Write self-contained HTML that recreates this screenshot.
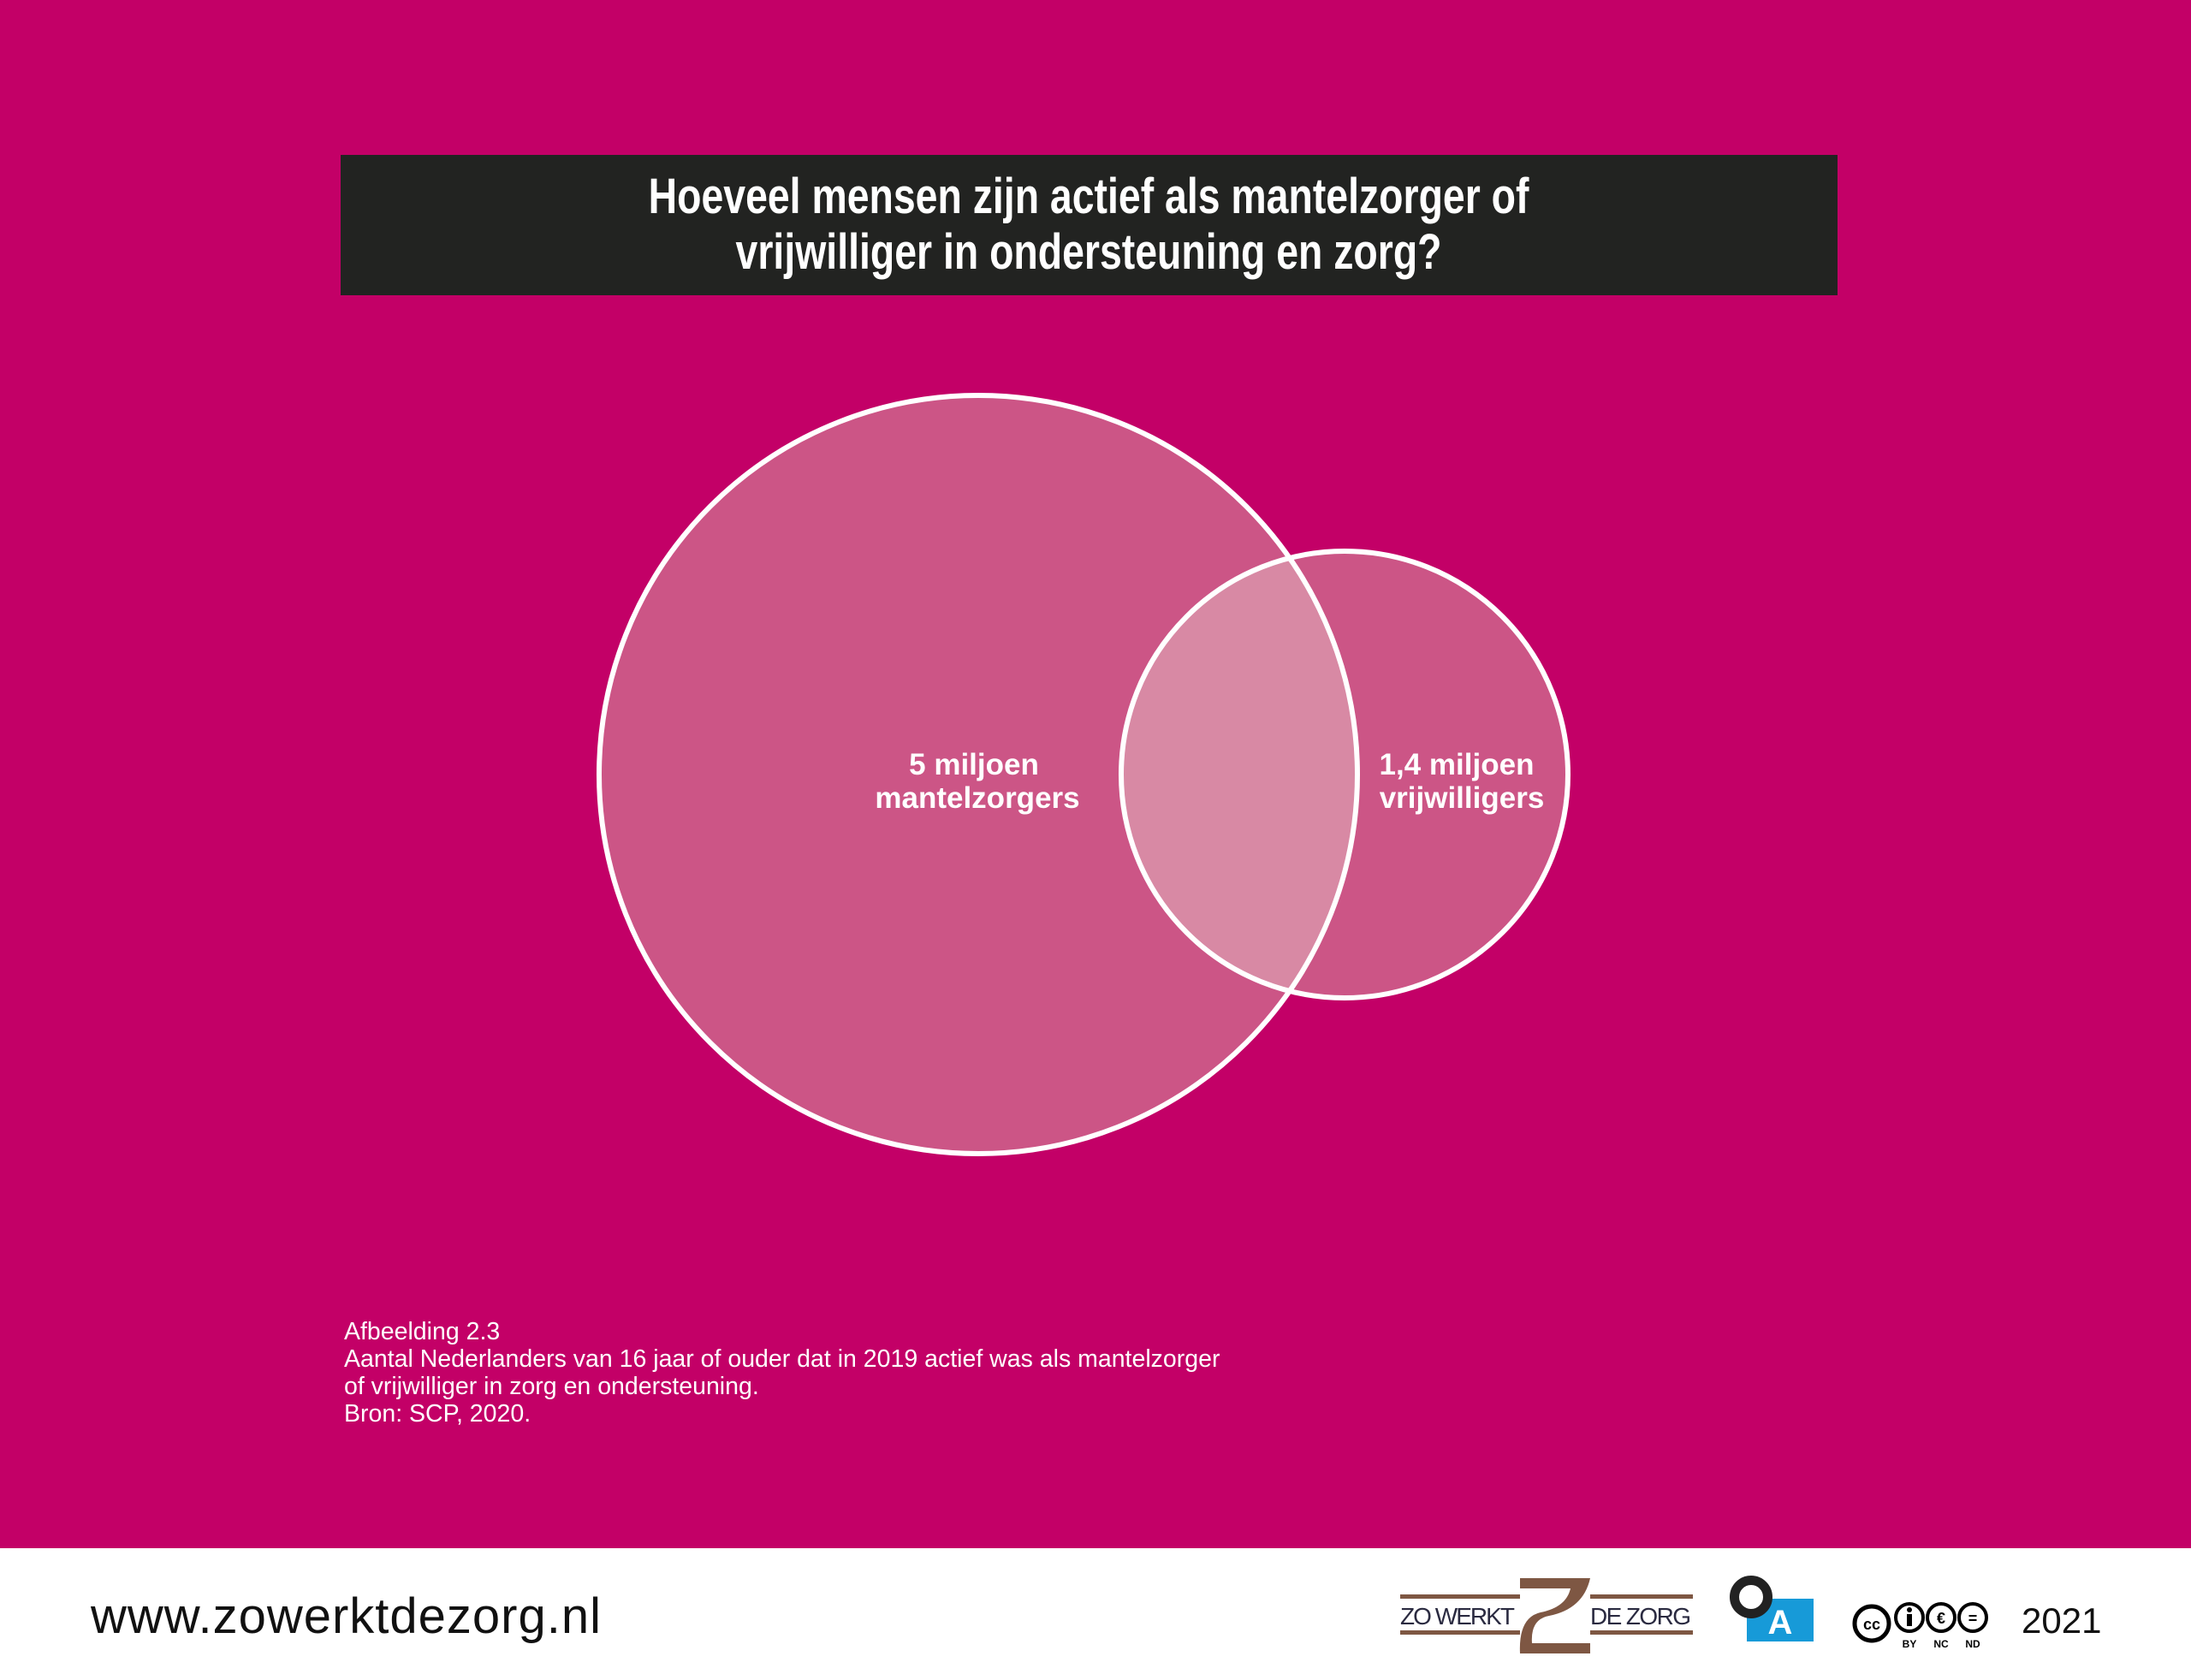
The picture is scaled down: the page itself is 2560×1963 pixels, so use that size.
<!DOCTYPE html>
<html><head><meta charset="utf-8"><style>
html,body{margin:0;padding:0}
body{width:2560px;height:1963px;position:relative;background:#C30067;overflow:hidden;font-family:"Liberation Sans",sans-serif}
.title{position:absolute;left:398px;top:181px;width:1749px;height:164px;background:#222321;color:#fff;text-align:center;font-weight:bold;font-size:58px;line-height:65px}
.title .in{display:inline-block;transform:scaleX(0.8);transform-origin:center;margin-top:16px;white-space:nowrap}
.cap{position:absolute;left:402px;top:1540px;color:#fff;font-size:28.5px;line-height:32px;white-space:nowrap}
.foot{position:absolute;left:0;top:1809px;width:2560px;height:154px;background:#fff}
</style></head><body>
<div class="title"><div class="in">Hoeveel mensen zijn actief als mantelzorger of<br>vrijwilliger in ondersteuning en zorg?</div></div>
<svg style="position:absolute;left:0;top:0" width="2560" height="1809">
<defs><clipPath id="c"><circle cx="1143" cy="905" r="443"/></clipPath></defs>
<circle cx="1143" cy="905" r="443" fill="#CC5586"/>
<circle cx="1571" cy="905" r="261" fill="#CC5586"/>
<circle cx="1571" cy="905" r="261" fill="#D889A4" clip-path="url(#c)"/>
<circle cx="1143" cy="905" r="443" fill="none" stroke="#fff" stroke-width="6"/>
<circle cx="1571" cy="905" r="261" fill="none" stroke="#fff" stroke-width="6"/>
<g fill="#fff" font-family="Liberation Sans, sans-serif" font-weight="bold" font-size="35" text-anchor="middle">
<text x="1138" y="905">5 miljoen</text><text x="1142" y="944">mantelzorgers</text>
<text x="1702" y="905">1,4 miljoen</text><text x="1708" y="944">vrijwilligers</text>
</g>
</svg>
<div class="cap">Afbeelding 2.3<br>Aantal Nederlanders van 16 jaar of ouder dat in 2019 actief was als mantelzorger<br>of vrijwilliger in zorg en ondersteuning.<br>Bron: SCP, 2020.</div>
<div class="foot"></div>
<div style="position:absolute;left:106px;top:1855px;font-size:58px;color:#111;letter-spacing:1px">www.zowerktdezorg.nl</div>
<svg style="position:absolute;left:1630px;top:1840px" width="360" height="95">
<rect x="6" y="23" width="140" height="5" fill="#7E5743"/><rect x="6" y="65" width="140" height="5" fill="#7E5743"/>
<rect x="228" y="23" width="120" height="5" fill="#7E5743"/><rect x="228" y="65" width="120" height="5" fill="#7E5743"/>
<path d="M146 4 H228 Q220 40 180 48 Q158 52 160 80 H228 V92 H146 Q144 50 170 44 Q200 38 205 16 H146 Z" fill="#7E5743"/>
<text x="6" y="58" font-size="28" fill="#2a2a40" font-family="Liberation Sans, sans-serif" textLength="134">ZO WERKT</text>
<text x="228" y="58" font-size="28" fill="#2a2a40" font-family="Liberation Sans, sans-serif" textLength="118">DE ZORG</text>
</svg>
<div style="position:absolute;left:2041px;top:1868px;width:78px;height:50px;background:#179AD8;color:#fff;font-weight:bold;font-size:40px;text-align:center;line-height:56px">A</div>
<div style="position:absolute;left:2021px;top:1841px;width:28px;height:28px;border:11px solid #222;border-radius:50%;background:#fff"></div>
<svg style="position:absolute;left:2160px;top:1868px" width="175" height="70" font-family="Liberation Sans, sans-serif" font-weight="bold">
<circle cx="27" cy="29" r="20" fill="#fff" stroke="#000" stroke-width="5"/><text x="27" y="36" font-size="18" text-anchor="middle">cc</text>
<circle cx="71" cy="22" r="16" fill="#fff" stroke="#000" stroke-width="4"/><rect x="68" y="18" width="6" height="14"/><circle cx="71" cy="13" r="3"/>
<circle cx="108" cy="22" r="16" fill="#fff" stroke="#000" stroke-width="4"/><text x="108" y="29" font-size="18" text-anchor="middle">€</text>
<circle cx="145" cy="22" r="16" fill="#fff" stroke="#000" stroke-width="4"/><text x="145" y="29" font-size="18" text-anchor="middle">=</text>
<text x="71" y="57" font-size="12" text-anchor="middle">BY</text><text x="108" y="57" font-size="12" text-anchor="middle">NC</text><text x="145" y="57" font-size="12" text-anchor="middle">ND</text>
</svg>
<div style="position:absolute;left:2362px;top:1870px;font-size:42px;color:#111">2021</div>
</body></html>
